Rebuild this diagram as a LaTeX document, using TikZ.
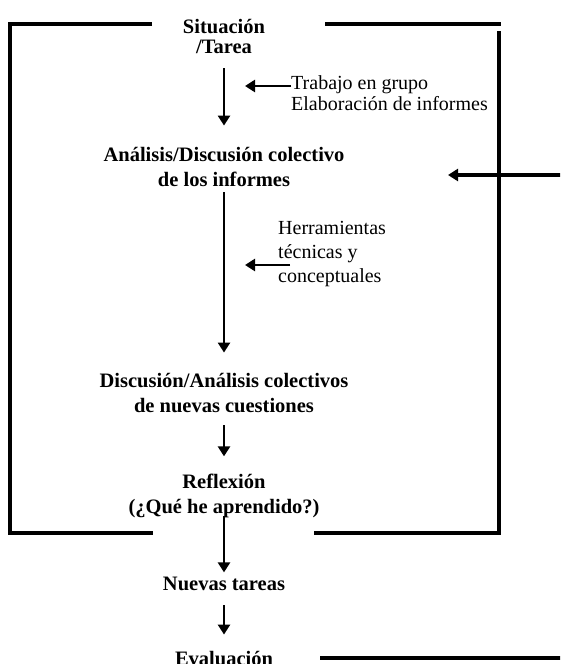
\documentclass[tikz,border=0pt]{standalone}
\usepackage{fontspec}
\setmainfont{Liberation Serif}
\usetikzlibrary{arrows.meta}
\begin{document}
\begin{tikzpicture}[x=1pt,y=-1pt,
    etapa/.style={font=\bfseries\fontsize{20.5}{25}\selectfont,align=center,inner sep=0pt,anchor=base},
    nota/.style={font=\fontsize{20}{21}\selectfont,align=left,inner sep=0pt,anchor=base west},
    flecha/.style={line width=2.6pt,-{Triangle[width=12pt,length=10pt]}},
    marco/.style={line width=3.2pt}]
  \useasboundingbox (0,0) rectangle (560,664);
  \clip (0,0) rectangle (560,664);
  \draw
    (224,53) node[etapa] (sit){Situación\\[-5pt]/Tarea}
    (224,186) node[etapa] (ana){Análisis/Discusión colectivo\\de los informes}
    (224,412) node[etapa] (dis){Discusión/Análisis colectivos\\de nuevas cuestiones}
    (224,513) node[etapa] (ref){Reflexión\\(¿Qué he aprendido?)}
    (224,590) node[etapa] (nue){Nuevas tareas}
    (224,665) node[etapa] (eva){Evaluación}
    (291,110) node[nota] (tg){Trabajo en grupo\\Elaboración de informes}
    (278,282) node[nota] (herr){Herramientas\\[3pt]técnicas y\\[3pt]conceptuales};
  \coordinate (tgin) at (245,86);
  \coordinate (hin) at (245,265);
  \coordinate (back) at (448,175);
  % ciclo principal
  \begin{scope}[flecha]
    \draw[shorten <=15pt,shorten >=21pt] (sit) -- (ana);
    \draw[shorten <=6pt,shorten >=20pt] (ana) -- (dis);
    \draw[shorten <=13pt,shorten >=17pt] (dis) -- (ref);
    \draw[shorten <=-2pt,shorten >=4pt] (ref) -- (nue);
    \draw[shorten <=15pt,shorten >=16pt] (nue) -- (eva);
    \draw (tg.west |- tgin) -- (tgin);
    \draw[shorten <=-12pt] (herr.west |- hin) -- (hin);
  \end{scope}
  % marco
  \draw[marco] (152,24) -| (10,533) -- (153,533);
  \draw[marco] (325,24) -- (501,24);
  \draw[marco] (499,31) |- (314,533);
  \draw[marco,-{Triangle[width=12pt,length=10pt]},shorten <=47pt] (eva.east) -- (590,0 |- eva.east) |- (back);
\end{tikzpicture}
\end{document}
